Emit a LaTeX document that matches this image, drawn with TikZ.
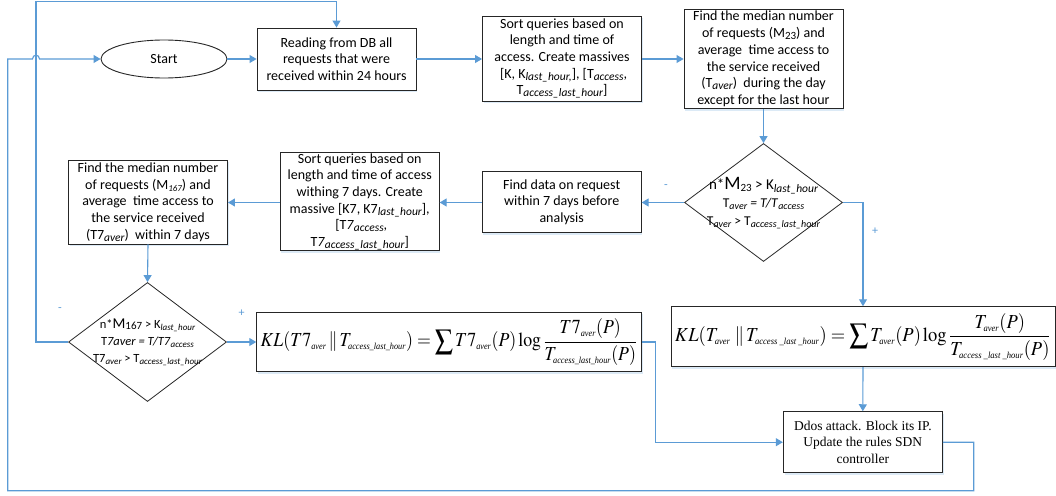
\documentclass[tikz,border=0pt]{standalone}
\usepackage{mathptmx}
\usepackage{graphicx}
\usepackage[no-math]{fontspec}
\setmainfont{Carlito}
\newfontfamily\timesf{Liberation Serif}
\usetikzlibrary{shapes.geometric,arrows.meta,shadows}
\definecolor{lineblue}{RGB}{91,155,213}
\newcommand\sbi[1]{\raisebox{-0.3ex}{\fontsize{11.5}{11.5}\selectfont\itshape #1}}
\newcommand\sbn[1]{\raisebox{-0.2ex}{\fontsize{11}{11}\selectfont #1}}
\newcommand\sbs[1]{\raisebox{-0.3ex}{\fontsize{10}{10}\selectfont\itshape #1}}
\newcommand\sbt[1]{\raisebox{-0.3ex}{\fontsize{9}{9}\selectfont\itshape #1}}
\newcommand\msb[1]{\hbox{\fontsize{6.5}{6.5}\timesf\itshape #1}}
\newcommand\bigsum{\mathop{\displaystyle\sum}\nolimits}
\begin{document}
\begin{tikzpicture}[x=1pt,y=-1pt,
  box/.style={draw=black!85, line width=0.9pt, fill=white, align=center, inner sep=0pt,
    font=\fontsize{14}{16.7}\selectfont,
    drop shadow={shadow xshift=1.2pt, shadow yshift=-2pt, fill=lineblue!70, opacity=0.3}},
  conn/.style={draw=lineblue, line width=1.1pt},
  arr/.style={conn, -{Triangle[length=7pt,width=8pt]}},
  dia/.style={draw=black!85, line width=0.8pt, diamond, fill=white, inner sep=0pt},
  diatext/.style={align=center, inner sep=0pt},
  sign/.style={text=lineblue, font=\fontsize{12}{12}\selectfont, inner sep=0pt}
]
\useasboundingbox (0,0) rectangle (1056,495);

% nodes
\node[draw=black!85, line width=0.9pt, ellipse, fill=white, minimum width=126pt, minimum height=38pt,
  inner sep=0pt, font=\fontsize{14}{16.7}\selectfont] (start) at (164,59) {Start};
\node[box, minimum width=159pt, minimum height=62pt] (read) at (336.5,59)
  {Reading from DB all\\ requests that were\\ received within 24 hours};
\node[box, minimum width=159pt, minimum height=85pt] (sort) at (562,58.5)
  {Sort queries based on\\ length and time of\\ access. Create massives\\{}
   [K, K\sbi{last\_hour,}], [T\sbi{access},\\ T\sbi{access\_last\_hour}]};
\node[box, minimum width=159pt, minimum height=99pt] (median) at (763.5,59)
  {Find the median number\\ of requests (M\sbn{23}) and\\ average\ \ time access to\\
   the service received\\ (T\sbi{aver})\ \ during the day\\ except for the last hour};

\node[dia, minimum width=158pt, minimum height=118pt] (dia1) at (763.5,202.5) {};
\node[diatext, font=\fontsize{13.5}{17}\selectfont] (dia1t) at ([yshift=-1pt]dia1.center)
  {{\fontsize{15}{17}\selectfont n*{\fontsize{19}{17}\selectfont M}\sbn{23} > K\sbi{last\_hour}}\\[1pt]
   T\sbs{aver} \textit{= T/T}\sbs{access}\\[1pt]
   T\sbs{aver} > T\sbs{access\_last\_hour}};

\node[box, minimum width=159pt, minimum height=61pt] (finddata) at (561.7,202.2)
  {Find data on request\\ within 7 days before\\ analysis};
\node[box, minimum width=159pt, minimum height=98pt] (sort7) at (359.7,201.8)
  {Sort queries based on\\ length and time of access\\ withing 7 days. Create\\
   massive [K7, K7\sbi{last\_hour}],\\{} [T\textit{7}\sbi{access},\\ T\textit{7}\sbi{access\_last\_hour}]};
\node[box, minimum width=159pt, minimum height=84pt] (median7) at (148,202)
  {Find the median number\\ of requests (M\sbt{167}) and\\ average\ \ time access to\\
   the service received\\ (T7\sbi{aver})\ \ within 7 days};

\node[dia, minimum width=158pt, minimum height=119pt] (dia2) at (147.5,342) {};
\node[diatext, font=\fontsize{12.5}{16}\selectfont] (dia2t) at (dia2.center)
  {n*{\fontsize{15}{14}\selectfont M}\sbn{167} > K\sbt{last\_hour}\\[1pt]
   T\textit{7aver = T/T7}\sbt{access}\\[1pt]
   T7\sbt{aver} > T\sbt{access\_last\_hour}};

\node[box, minimum width=384.6pt, minimum height=59.4pt] (kl7) at (449,342)
  {\resizebox*{377pt}{47pt}{$KL(T7_{\msb{aver}}\,\|\,T_{\msb{access\_last\_hour}})=\bigsum T7_{\msb{aver}}(P)\log{\displaystyle\frac{T7_{\msb{aver}}(P)}{T_{\msb{access\_last\_hour}}(P)}}$}};
\node[box, minimum width=384pt, minimum height=60pt] (kl) at (863,336.7)
  {\resizebox*{376pt}{47pt}{$KL(T_{\msb{aver}}\;\|\,T_{\msb{access \_last \_hour}})=\bigsum T_{\msb{aver}}(P)\log{\displaystyle\frac{T_{\msb{aver}}(P)}{T_{\msb{access \_last \_hour}}(P)}}$}};
\node[box, minimum width=159pt, minimum height=61pt, font=\timesf\fontsize{13.5}{16.7}\selectfont] (ddos) at (862.8,442.2)
  {Ddos attack. Block its IP.\\ Update the rules SDN\\ controller};

% sign labels
\node[sign] (s1) at (666,187) {-};
\node[sign] (s2) at (875,231) {+};
\node[sign] (s3) at (60,310) {-};
\node[sign] (s4) at (241.7,313) {+};

% helper coordinates
\coordinate (c1) at (655.3,342);
\coordinate (b1) at (973.7,490.7);
\coordinate (b2) at (7.7,490.7);
\coordinate (b3) at (7.7,59);
\coordinate (hopL) at (32.5,59);
\coordinate (hopR) at (39.5,59);
\coordinate (t1) at (36,1.5);

% connectors
\draw[arr] (start.east) -- (read.west);
\draw[arr] (read.east) -- (sort.west |- read.east);
\draw[arr] (sort.east |- read.east) -- (median.west |- read.east);
\draw[arr] (median.south) -- (dia1.north);
\draw[arr] (dia1.west) -- (finddata.east |- dia1.west);
\draw[arr] (finddata.west |- dia1.west) -- (sort7.east |- dia1.west);
\draw[arr] (sort7.west |- dia1.west) -- (median7.east |- dia1.west);
\draw[arr] (median7.south) -- (dia2.north);
\draw[arr] (dia2.east) -- (kl7.west);
\draw[arr] (dia1.east) -| (kl.north);
\draw[arr] (kl.south) -- (ddos.north);
\draw[arr] (kl7.east) -- (c1) |- (ddos.west);
\draw[arr] (ddos.east) -| (b1) -- (b2) -- (b3) -- (hopL)
  .. controls (32.5,54) and (39.5,54) .. (hopR) -- (start.west);
\draw[arr] (dia2.west) -| (t1) -| (read.north);
\end{tikzpicture}
\end{document}
